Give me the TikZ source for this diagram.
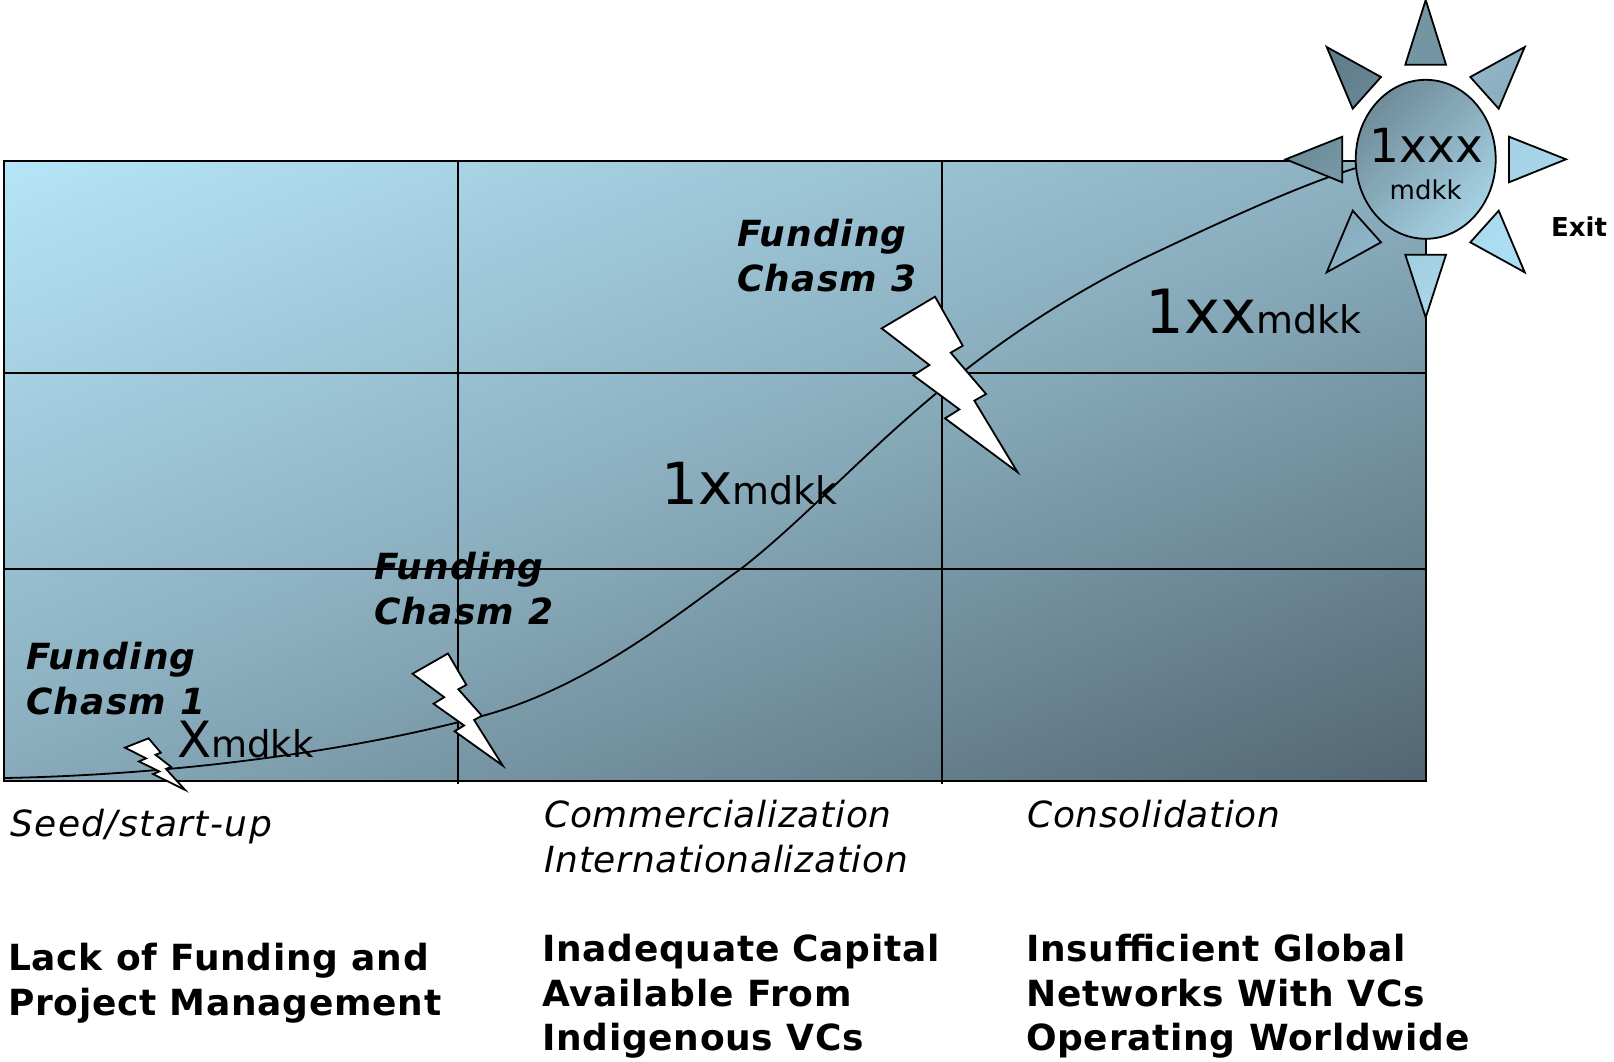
\documentclass[tikz,border=0pt]{standalone}
\usepackage{fontspec}
\setmainfont{DejaVu Sans}
\usetikzlibrary{shapes.geometric}
\definecolor{skylight}{HTML}{B5E5F8}
\definecolor{skydark}{HTML}{526672}
\newcommand{\sizedfont}[2]{\fontsize{#1}{#2}\selectfont}
\newcommand{\spaced}[1]{\addfontfeature{LetterSpace=#1}}

\begin{document}
\begin{tikzpicture}[x=1pt,y=-1pt]
\tikzstyle{every node}+=[inner sep=0pt]
\tikzstyle{grid line}=[black,line width=2pt]
\tikzstyle{bolt}=[black,fill=white,line width=1.8pt,line join=miter]
\tikzstyle{ray}=[draw=black,line width=1.8pt,line join=miter,shading angle=45]
\tikzstyle{chasm}=[anchor=north west,align=left,font=\sizedfont{36}{44.5}\bfseries\itshape\spaced{3.5}]
\tikzstyle{stage}=[anchor=north west,align=left,font=\sizedfont{36}{44.5}\itshape\spaced{2}]
\tikzstyle{problem}=[anchor=north west,align=left,font=\sizedfont{36}{44.5}\bfseries\spaced{2}]
\useasboundingbox (0,0) rectangle (1614,1061);
% chart field
\begin{scope}
\clip (4,160.5) rectangle (1426,781);
\shade [top color=skylight,bottom color=skydark,middle color=skylight!56!skydark,
  transform canvas={rotate around={22:(715,470.75)}}] (-285,-83) rectangle (1715,1024.5);
\end{scope}
\draw [grid line] (4,160.5) rectangle (1426,781);
\draw [grid line] (458,160.5) -- (458,784);
\draw [grid line] (942,160.5) -- (942,784);
\draw [grid line] (4,372.5) -- (1426,372.5);
\draw [grid line] (4,569) -- (1426,569);
% growth curve
\coordinate (curvestart) at (4,778);
\coordinate (curveend) at (1356,168);
\draw [black,line width=1.8pt] (curvestart) .. controls (170,775) and (350,752) .. (482,716)
  .. controls (590,687) and (680,612) .. (742,568)
  .. controls (810,515) and (880,435) .. (968,368)
  .. controls (1030,320) and (1090,285) .. (1140,260)
  .. controls (1220,222) and (1300,185) .. (curveend);
% lightning bolts
\foreach \bx/\by/\bw/\bh in {125/738.3/0.1474/0.098, 412.5/653.5/0.2216/0.213, 881.7/296.7/0.3334/0.3333}
  \draw [bolt,shift={(\bx,\by)},xscale=\bw,yscale=\bh] (160,0) -- (0,95) -- (143,205) -- (95,236) -- (233,338)
    -- (190,365) -- (407,526) -- (278,312) -- (313,292) -- (207,168) -- (243,147) -- cycle;
% rays and exit
\draw [grid line] (1425.7,239) -- (1425.7,258);
\foreach \ax/\ay/\qx/\qy/\rx/\ry/\ctop/\cbot in {
  1425.7/0/1405.3/64.7/1446/64.7/7796A4/7394A2,
  1524.7/47/1470.3/77/1498.7/108.7/93B6C8/88ACBE,
  1566/159.3/1509/136.7/1509/182.3/A4D2E4/A9D7E9,
  1524.7/272.3/1470.3/242.3/1498.7/210.7/A8DBEF/ACDFF3,
  1425.7/317.5/1405.3/254.7/1446/254.7/A3CFE2/A8D6E9,
  1326.7/272.3/1381/242.3/1352.7/210.7/86AABC/8FB7CB,
  1285.7/159.3/1342.3/136.7/1342.3/182.3/6A8996/7897A6,
  1326.7/47/1381/77/1352.7/108.7/5F7C8A/688795}
{
  \definecolor{raytop}{HTML}{\ctop}
  \definecolor{raybot}{HTML}{\cbot}
  \draw [ray,top color=raytop,bottom color=raybot,shading angle=45] (\ax,\ay) -- (\qx,\qy) -- (\rx,\ry) -- cycle;
}
\node (exitsun) [ellipse,draw=black,line width=1.8pt,minimum width=140pt,minimum height=159pt,
  top color=skydark!70!skylight,bottom color=skylight!85!skydark,shading angle=45] at (1425.7,159.3) {};
\node (sunbig) [anchor=base,font=\sizedfont{47}{47}] at (1426.5,162) {1xxx};
\node (sunsmall) [anchor=base,font=\sizedfont{26}{26}] at (1425.7,199) {mdkk};
\node (exitlabel) [anchor=base west,font=\sizedfont{26}{26}\bfseries] at (1551,236) {Exit};
% chasm labels
\node (chasmone) [chasm] at (26,642) {Funding\\Chasm 1};
\node (chasmtwo) [chasm] at (374,552) {Funding\\Chasm 2};
\node (chasmthree) [chasm] at (737,219) {Funding\\Chasm 3};
% amounts
\node (amountone) [anchor=base west] at (177,757) {{\sizedfont{50}{50}X}{\sizedfont{37}{37}mdkk}};
\node (amounttwo) [anchor=base west] at (661,504) {{\sizedfont{58}{58}1x}{\sizedfont{38}{38}mdkk}};
\node (amountthree) [anchor=base west] at (1145,333.5) {{\sizedfont{61}{61}1xx}{\sizedfont{38}{38}mdkk}};
% stages
\node (stageseed) [stage] at (10,809) {\spaced{4}Seed/start-up};
\node (stagecomm) [stage] at (544,800) {Commercialization\\Internationalization};
\node (stagecons) [stage] at (1027,800) {Consolidation};
% problems
\node (problemone) [problem] at (8,943) {Lack of Funding and\\Project Management};
\node (problemtwo) [problem] at (542,934) {Inadequate Capital\\Available From\\Indigenous VCs};
\node (problemthree) [problem] at (1026,934) {Insufficient Global\\Networks With VCs\\Operating Worldwide};
\end{tikzpicture}
\end{document}
